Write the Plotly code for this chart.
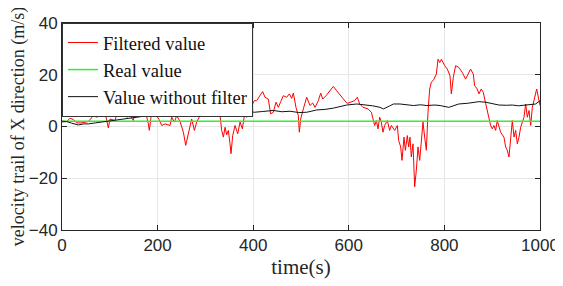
import plotly.graph_objects as go

red_x = [0, 9.8, 16.7, 23.7, 30.7, 41.2, 55.1, 65.6, 72.5, 83, 90, 93.5, 97, 100.4, 111, 116.5, 121.4, 128.3,
         135.3, 142.3, 149.3, 156.2, 163.2, 170.2, 175, 180.6, 182.7, 186.2, 191.1, 198, 203, 208.6, 215.5, 226,
         229.5, 235, 240, 247, 253.9, 258.8, 263, 267.8, 271.3, 276.9, 281.8, 288.8, 295.7, 300.6, 306.2, 313.2,
         320.2, 327.1, 330.6, 334.1, 337.6, 341.1, 344.6, 348, 351.5, 353.6, 357.1, 362, 367.6, 372.5, 377.3,
         381.5, 386.4, 391.3, 396.9, 402.5,
         407.2, 414.2, 419.8, 424.7, 431.6, 436.5, 442.1, 447.7, 452.6, 457.5, 463.0, 470.0, 475.6, 480.5, 484.0,
         489.5, 494.4, 496.5, 499.3, 504.9, 511.9, 518.8, 524.4, 529.3, 536.3, 541.2, 545.4, 552.3, 560.7, 567.7,
         574.6, 581.6, 588.6, 595.6,
         598.3, 605.3, 612.2, 617.8, 622.7, 629.7, 640.2, 647.2, 654.1, 657.6, 661.1, 664.6, 668.0, 671.5, 675.0,
         680.6, 685.5, 689.0, 696.0, 701.5, 704.3, 708.5, 711.3, 715.5, 718.3, 722.4, 725.2, 728.0, 730.8, 734.3,
         737.8, 741.3, 744.8, 748.3, 751.8, 755.2, 758.7, 762.2, 765.7, 769.2, 772.7, 778.3, 783.2, 786.7, 790.2,
         793.7, 800.6,
         806.1, 811.7, 814.5, 818.7, 823.4, 830.4, 837.4, 844.3, 849.2, 854.8, 860.4, 863.2, 868.7, 872.2, 877.1,
         881.3, 886.2, 889.7, 893.2, 896.7, 900.2, 903.7, 907.2, 910.6, 917.6, 924.6, 928.1, 931.6, 935.1, 938.6,
         942.1, 945.6, 949.1, 952.6, 956.1, 959.5, 966.5, 970.0, 973.5, 977.0, 980.5, 984.0, 987.5, 993.1, 997.9,
         1000]
red_y = [2.2, 1.9, 3.2, 2.7, 1.4, 1.4, 1.9, 4.2, 3.6, 4.5, 5.5, 2.9, -0.6, 2.9, 2.3, 6.2, 7.1, 6.2,
         3.6, 4.2, 2.3, 8.3, 7.8, 8.3, 5.5, 1.0, -1.5, 3.6, 4.7, 4.2, 2.7, 0.4, 1.0, 0.4,
         3.6, 1.7, 4.2, 1.9, -2.2, -7.3, -3.5, 0.4, 2.9, -1.5, 1.7, 4.2, 8.1, 10.6, 8.7, 9.6,
         8.1, 6.2, 4.2, -1.5, -4.1, -0.3, -3.2, -1.5, -6.7, -10.5, -3.5, 0.4, -2.8, 1.7, -0.9,
         4.2, 3.6, 6.8, 8.1, 10.0,
         10.0, 11.9, 13.5, 11.3, 10.6, 4.9, 5.5, 9.4, 7.4, 9.6, 11.9, 11.3, 12.6, 10.9, 12.9,
         7.4, 4.2, -2.2, 2.9, 6.8, 11.3, 8.1, 9.1, 7.4, 10.0, 12.9, 10.6, 11.9, 13.8, 15.5,
         13.8, 12.2, 10.6, 9.1,
         9.0, 9.4, 10.0, 11.3, 8.7, 7.4, 6.8, 5.5, 0.4, 2.3, -0.9, 3.6, 1.7, -2.2, 0.4,
         2.3, -1.5, 0.4, -1.5, 0.4, -5.4, -7.9, -13.1, -4.1, -9.2, -3.5, -7.9, -4.1, -11.8, -6.7,
         -23.3, -16.9, -7.9, -13.1, -6.7, 1.7, -4.1, -9.2, 5.5, 14.5, 17.1, 18.3, 20.3, 26.0, 24.7,
         26.0, 23.5,
         22.2, 19.6, 12.6, 19.0, 23.5, 22.8, 20.9, 18.3, 20.3, 22.2, 20.3, 15.8, 14.5, 12.6, 14.5,
         13.2, 9.0, 6.2, 3.0, 0.4, -0.9, 0.4, -1.5, 2.3, -2.2, -4.1, -7.9, -9.2, -11.8, -5.4,
         2.3, -4.1, -1.5, -6.7, -4.1, -0.3, 3.6, 8.7, 3.6, 6.2, 0.4, 7.4, 10.0, 14.5, 10.0,
         8.1]

real_x = [0, 1000]
real_y = [2, 2]

raw_x = [0, 9.8, 20, 34.2, 45, 55.1, 70, 90, 105, 124.9, 140, 152.8, 165, 180.6, 195, 208.6, 220, 229.5,
         245, 264.4, 275, 285.3, 295, 302.7, 312, 320.2, 335, 348, 362, 375.9, 390, 402.5,
         420, 442.1, 460, 477, 495, 511.9, 532.8, 550, 567.7, 580, 595.6, 616.5, 637.4, 650, 665.4, 672.4,
         685, 693.3, 707.2, 720, 735.2, 750, 763.2, 780, 791.1,
         809.1, 830, 850, 872, 886, 900, 914, 930, 942, 955, 970, 984, 991, 1000]
raw_y = [1.8, 1.9, 1.3, 0.6, 1.0, 1.0, 1.4, 1.9, 2.4, 2.9, 3.3, 3.6, 3.9, 4.2, 4.0, 4.5, 4.4, 4.9,
         5.2, 5.8, 5.4, 5.5, 6.2, 6.8, 6.0, 5.5, 5.9, 6.2, 6.6, 6.4, 6.0, 5.5,
         5.8, 6.2, 5.7, 5.9, 5.4, 5.5, 6.4, 6.6, 7.1, 7.6, 8.3, 8.7, 8.3, 8.0, 7.4, 6.8,
         7.9, 8.7, 8.7, 8.3, 8.1, 8.4, 8.1, 8.3, 8.1,
         7.4, 8.7, 9.0, 9.6, 9.4, 8.8, 8.3, 8.2, 8.3, 8.0, 8.3, 8.3, 8.7, 10.0]

fig = go.Figure()
fig.add_trace(go.Scatter(x=red_x, y=red_y, mode="lines", name="Filtered value",
                         line=dict(color="#ff0000", width=1)))
fig.add_trace(go.Scatter(x=real_x, y=real_y, mode="lines", name="Real value",
                         line=dict(color="#33ee33", width=1.5)))
fig.add_trace(go.Scatter(x=raw_x, y=raw_y, mode="lines", name="Value without filter",
                         line=dict(color="#111111", width=1)))

axis_common = dict(showline=True, linecolor="#262626", linewidth=1, mirror="ticks",
                   ticks="inside", ticklen=5, tickcolor="#262626", showgrid=True,
                   gridcolor="#e6e6e6", gridwidth=1, zeroline=False, automargin=False,
                   tickfont=dict(family="Liberation Sans, Arial", size=17, color="#262626"))

serif = "Liberation Serif, Times New Roman"
fig.update_layout(
    width=555, height=278,
    margin=dict(l=54, r=23, t=15, b=56),
    paper_bgcolor="white", plot_bgcolor="white",
    xaxis=dict(range=[0, 1000], tickvals=[0, 200, 400, 600, 800, 1000],
               title=dict(text="time(s)", font=dict(family=serif, size=21, color="#262626"), standoff=4),
               **axis_common),
    yaxis=dict(range=[-40, 40], tickvals=[-40, -20, 0, 20, 40],
               title=dict(text="velocity trail of X direction (m/s)", font=dict(family=serif, size=18, color="#262626"), standoff=6),
               **axis_common),
    legend=dict(x=0, y=1, xanchor="left", yanchor="top", bgcolor="white",
                bordercolor="#333", borderwidth=1, itemwidth=30, tracegroupgap=0,
                font=dict(family=serif, size=18.5, color="#111")),
    showlegend=True,
)

fig.write_html("out.html")
